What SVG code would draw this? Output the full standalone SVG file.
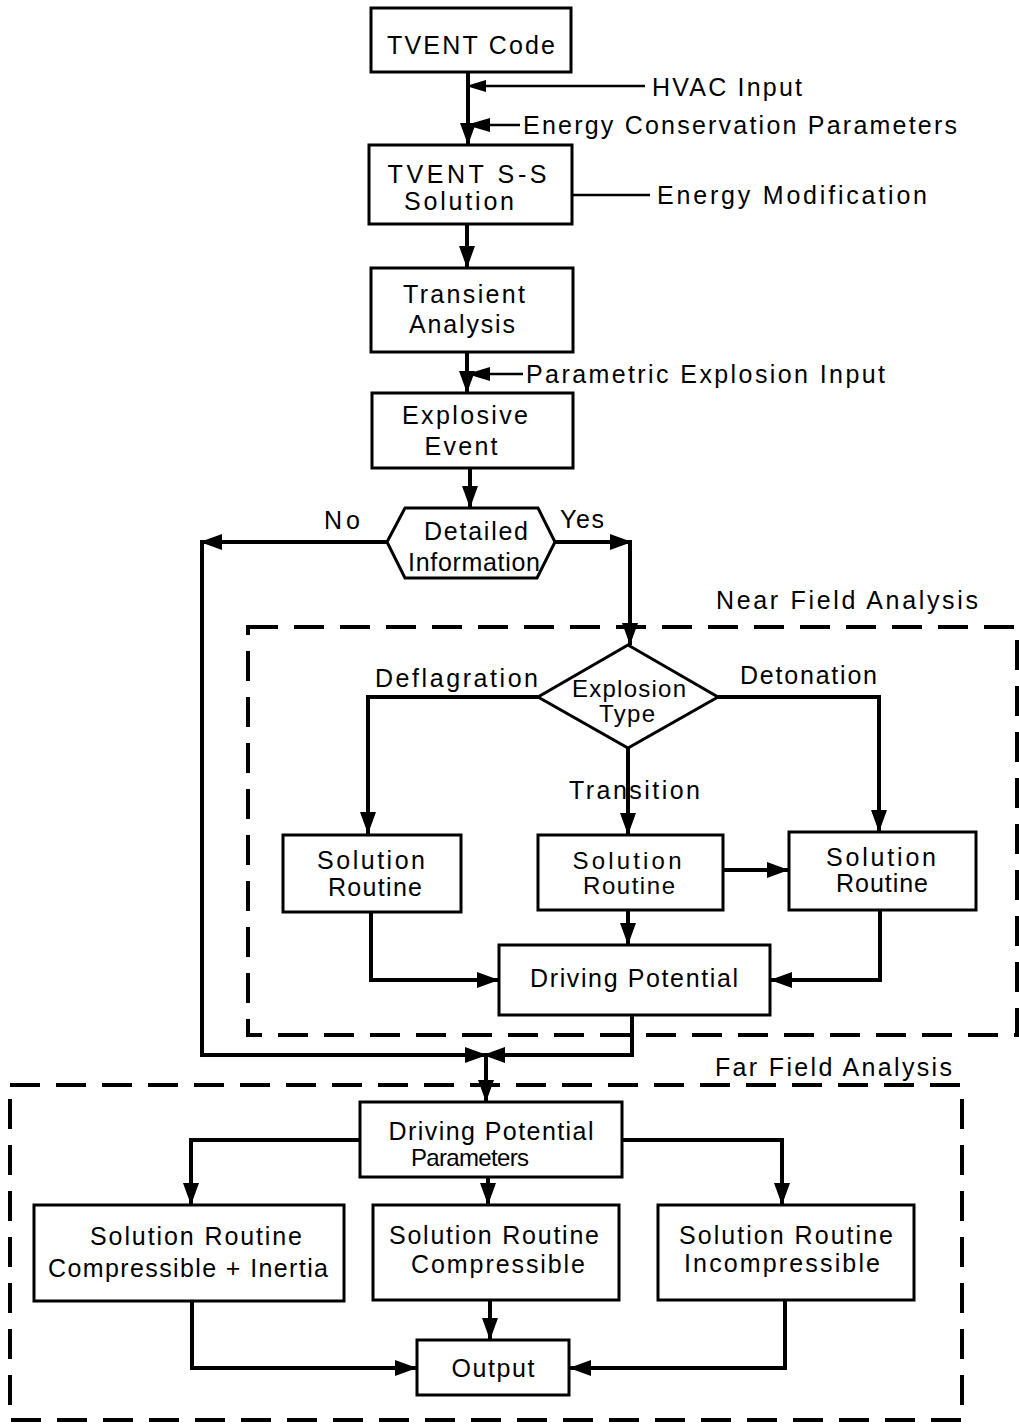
<svg xmlns="http://www.w3.org/2000/svg" width="1019" height="1424" viewBox="0 0 1019 1424">
<style>
.box{fill:#fff;stroke:#000;stroke-width:3}
.t{font-family:"Liberation Sans","DejaVu Sans",Arial,sans-serif;font-size:25px;fill:#000;text-anchor:middle}
.s{font-size:24px}
.tl{font-family:"Liberation Sans","DejaVu Sans",Arial,sans-serif;font-size:25px;fill:#000}
.ca{fill:none;stroke:#000;stroke-width:4;marker-end:url(#ah)}
.thin{fill:none;stroke:#000;stroke-width:2.5}
.dash{fill:none;stroke:#000;stroke-width:4;stroke-dasharray:30 16}
</style>
<defs>
<marker id="ah" markerUnits="userSpaceOnUse" markerWidth="24" markerHeight="18" refX="22" refY="8" orient="auto">
<path d="M0,0 L22,8 L0,16 Z" fill="#000"/>
</marker>
</defs>
<rect width="1019" height="1424" fill="#fff"/>

<g id="near-field">
<rect class="dash" x="248" y="627" width="769" height="408"/>
<text class="tl" x="716" y="609" textLength="262">Near Field Analysis</text>
</g>
<g id="far-field">
<rect class="dash" x="10" y="1085" width="952" height="335"/>
<text class="tl" x="715" y="1076" textLength="237">Far Field Analysis</text>
</g>

<g id="connectors">
<path class="ca" d="M468,72 V145"/>
<path class="thin" d="M645,86 H480"/>
<path d="M466,86 L486,80 L486,92 Z" fill="#000"/>
<path class="thin" d="M520,125 H480"/>
<path d="M466,125 L490,118 L490,132 Z" fill="#000"/>
<path class="thin" d="M572,195 H650"/>
<path class="ca" d="M467,224 V268"/>
<path class="ca" d="M467,352 V393"/>
<path class="thin" d="M523,374 H480"/>
<path d="M467,374 L490,367 L490,381 Z" fill="#000"/>
<path class="ca" d="M470,468 V508"/>
<path class="ca" d="M387,542 H200"/>
<path class="ca" d="M202,540 V1055 H487"/>
<path class="ca" d="M555,542 H632"/>
<path class="ca" d="M630,540 V645"/>
<path class="ca" d="M538,697 H368 V834"/>
<path class="ca" d="M718,697 H879 V832"/>
<path class="ca" d="M628,748 V835"/>
<path class="ca" d="M723,870 H789"/>
<path class="ca" d="M628,910 V945"/>
<path class="ca" d="M371,912 V980 H499"/>
<path class="ca" d="M880,910 V980 H770"/>
<path class="ca" d="M632,1015 V1055 H483"/>
<path class="ca" d="M486,1055 V1102"/>
<path class="ca" d="M360,1140 H191 V1205"/>
<path class="ca" d="M488,1177 V1205"/>
<path class="ca" d="M622,1140 H782 V1205"/>
<path class="ca" d="M192,1301 V1368 H417"/>
<path class="ca" d="M490,1300 V1340"/>
<path class="ca" d="M785,1300 V1368 H569"/>
</g>

<g id="input-labels">
<text class="tl" x="652" y="96" textLength="150">HVAC Input</text>
<text class="tl" x="523" y="134" textLength="434">Energy Conservation Parameters</text>
<text class="tl" x="657" y="204" textLength="270">Energy Modification</text>
<text class="tl" x="526" y="383" textLength="359">Parametric Explosion Input</text>
<text class="tl" x="324" y="529" textLength="36">No</text>
<text class="tl" x="560" y="528" textLength="44">Yes</text>
<text class="tl" x="375" y="687" textLength="163">Deflagration</text>
<text class="tl" x="740" y="684" textLength="137">Detonation</text>
<text class="tl" x="569" y="799" textLength="131">Transition</text>
</g>

<g id="tvent-code">
<rect class="box" x="371" y="8" width="200" height="64"/>
<text class="t" x="471" y="54" textLength="168">TVENT Code</text>
</g>
<g id="tvent-ss">
<rect class="box" x="369" y="145" width="203" height="79"/>
<text class="t" x="467" y="183" textLength="159">TVENT S-S</text>
<text class="t" x="459" y="210" textLength="110">Solution</text>
</g>
<g id="transient">
<rect class="box" x="371" y="268" width="202" height="84"/>
<text class="t" x="464" y="303" textLength="122">Transient</text>
<text class="t" x="462" y="333" textLength="106">Analysis</text>
</g>
<g id="explosive-event">
<rect class="box" x="372" y="393" width="201" height="75"/>
<text class="t" x="465" y="424" textLength="126">Explosive</text>
<text class="t" x="461" y="455" textLength="73">Event</text>
</g>
<g id="detailed-info">
<polygon class="box" points="387,542 405,508 538,508 555,542 537,578 405,578"/>
<text class="t" x="476" y="540" textLength="104">Detailed</text>
<text class="t" x="474" y="571" textLength="132">Information</text>
</g>
<g id="explosion-type">
<polygon class="box" points="628,645 718,697 628,748 538,697"/>
<text class="t s" x="629" y="697" textLength="114">Explosion</text>
<text class="t s" x="627" y="722" textLength="56">Type</text>
</g>
<g id="sol-left">
<rect class="box" x="283" y="835" width="178" height="77"/>
<text class="t" x="371" y="869" textLength="108">Solution</text>
<text class="t" x="375" y="896" textLength="94">Routine</text>
</g>
<g id="sol-mid">
<rect class="box" x="538" y="835" width="185" height="75"/>
<text class="t s" x="627" y="869" textLength="109">Solution</text>
<text class="t s" x="629" y="894" textLength="92">Routine</text>
</g>
<g id="sol-right">
<rect class="box" x="789" y="832" width="187" height="78"/>
<text class="t" x="881" y="866" textLength="110">Solution</text>
<text class="t" x="882" y="892" textLength="92">Routine</text>
</g>
<g id="driving-potential">
<rect class="box" x="499" y="945" width="271" height="70"/>
<text class="t" x="634" y="987" textLength="208">Driving Potential</text>
</g>
<g id="dp-params">
<rect class="box" x="360" y="1102" width="262" height="75"/>
<text class="t" x="491" y="1140" textLength="205">Driving Potential</text>
<text class="t s" x="470" y="1166" textLength="118">Parameters</text>
</g>
<g id="sr-comp-inertia">
<rect class="box" x="34" y="1205" width="310" height="96"/>
<text class="t" x="196" y="1245" textLength="212">Solution Routine</text>
<text class="t" x="188" y="1277" textLength="280">Compressible + Inertia</text>
</g>
<g id="sr-comp">
<rect class="box" x="373" y="1205" width="246" height="95"/>
<text class="t" x="494" y="1244" textLength="210">Solution Routine</text>
<text class="t" x="498" y="1273" textLength="174">Compressible</text>
</g>
<g id="sr-incomp">
<rect class="box" x="658" y="1205" width="256" height="95"/>
<text class="t" x="786" y="1244" textLength="214">Solution Routine</text>
<text class="t" x="782" y="1272" textLength="196">Incompressible</text>
</g>
<g id="output">
<rect class="box" x="417" y="1340" width="152" height="55"/>
<text class="t" x="493" y="1377" textLength="83">Output</text>
</g>
</svg>
